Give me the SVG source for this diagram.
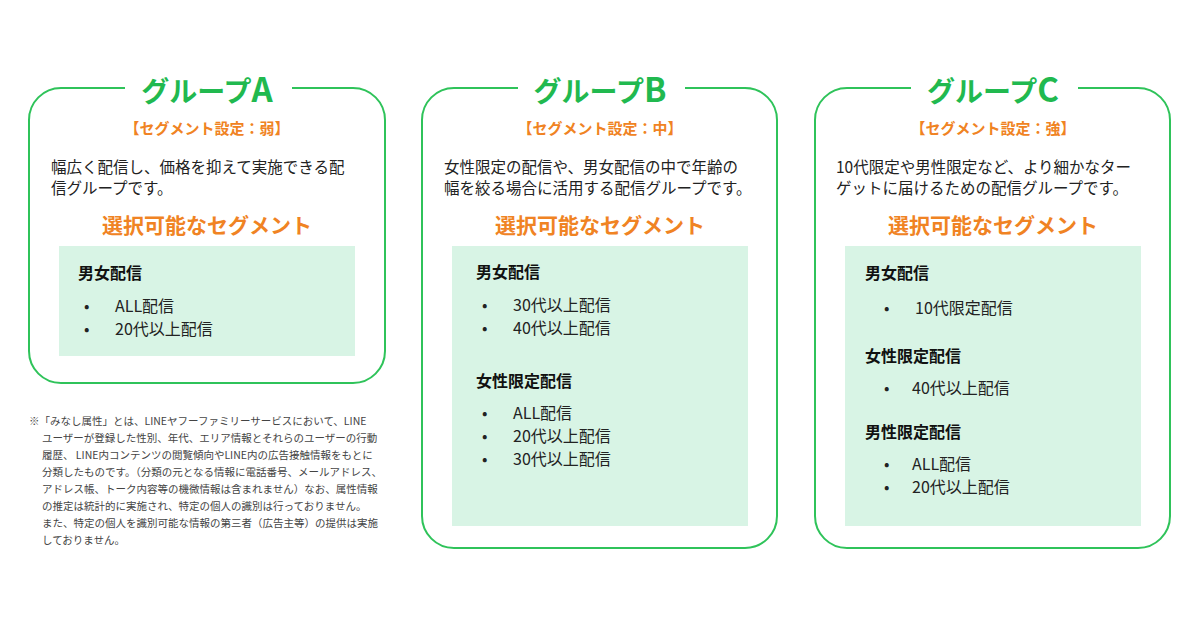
<svg xmlns="http://www.w3.org/2000/svg" width="1200" height="630" viewBox="0 0 1200 630">
<style>
text{font-family:"Noto Sans CJK JP","Noto Sans",sans-serif}
.frame{fill:none;stroke:#2fc35a;stroke-width:2}
.gap{fill:#fff}
.ttl{font-size:28px;font-weight:700;fill:#21b94f;text-anchor:middle}
.big{font-size:33px}
.set{font-size:15px;font-weight:700;fill:#f08323;text-anchor:middle}
.desc{font-size:15.5px;fill:#222}
.sel{font-size:21px;font-weight:700;fill:#f08323;text-anchor:middle}
.inner{fill:#d8f4e5}
.h{font-size:16px;font-weight:700;fill:#111}
.it{font-size:16px;fill:#222}
.note{font-size:10.5px;fill:#444}
</style>
<rect width="1200" height="630" fill="#fff"/>
<g id="groupA">
<rect class="frame" x="29" y="88" width="356" height="295" rx="32"/>
<rect class="gap" x="125" y="78" width="167" height="20"/>
<text class="ttl" x="207" y="102">グループ<tspan class="big">A</tspan></text>
<text class="set" x="207" y="134">【セグメント設定：弱】</text>
<text class="desc" x="51" y="173">幅広く配信し、価格を抑えて実施できる配</text>
<text class="desc" x="51" y="194">信グループです。</text>
<text class="sel" x="207" y="233">選択可能なセグメント</text>
<rect class="inner" x="59" y="246" width="296" height="110"/>
<text class="h" x="78" y="279">男女配信</text>
<text class="it" x="84" y="312">•</text><text class="it" x="115" y="312">ALL配信</text>
<text class="it" x="84" y="335">•</text><text class="it" x="115" y="335">20代以上配信</text>
</g>
<g id="groupB">
<rect class="frame" x="422" y="88" width="355" height="460" rx="32"/>
<rect class="gap" x="518" y="78" width="167" height="20"/>
<text class="ttl" x="600" y="102">グループ<tspan class="big">B</tspan></text>
<text class="set" x="600" y="134">【セグメント設定：中】</text>
<text class="desc" x="444" y="173">女性限定の配信や、男女配信の中で年齢の</text>
<text class="desc" x="444" y="194">幅を絞る場合に活用する配信グループです。</text>
<text class="sel" x="600" y="233">選択可能なセグメント</text>
<rect class="inner" x="452" y="246" width="296" height="280"/>
<text class="h" x="476" y="278">男女配信</text>
<text class="it" x="482" y="311">•</text><text class="it" x="513" y="311">30代以上配信</text>
<text class="it" x="482" y="334">•</text><text class="it" x="513" y="334">40代以上配信</text>
<text class="h" x="476" y="387">女性限定配信</text>
<text class="it" x="482" y="419">•</text><text class="it" x="513" y="419">ALL配信</text>
<text class="it" x="482" y="442">•</text><text class="it" x="513" y="442">20代以上配信</text>
<text class="it" x="482" y="465">•</text><text class="it" x="513" y="465">30代以上配信</text>
</g>
<g id="groupC">
<rect class="frame" x="815" y="88" width="355" height="460" rx="32"/>
<rect class="gap" x="911" y="78" width="167" height="20"/>
<text class="ttl" x="993" y="102">グループ<tspan class="big">C</tspan></text>
<text class="set" x="993" y="134">【セグメント設定：強】</text>
<text class="desc" x="836" y="173">10代限定や男性限定など、より細かなター</text>
<text class="desc" x="836" y="194">ゲットに届けるための配信グループです。</text>
<text class="sel" x="993" y="233">選択可能なセグメント</text>
<rect class="inner" x="845" y="246" width="296" height="280"/>
<text class="h" x="865" y="279">男女配信</text>
<text class="it" x="884" y="314">•</text><text class="it" x="915" y="314">10代限定配信</text>
<text class="h" x="865" y="362">女性限定配信</text>
<text class="it" x="884" y="394">•</text><text class="it" x="912" y="394">40代以上配信</text>
<text class="h" x="865" y="438">男性限定配信</text>
<text class="it" x="884" y="470">•</text><text class="it" x="912" y="470">ALL配信</text>
<text class="it" x="884" y="493">•</text><text class="it" x="912" y="493">20代以上配信</text>
</g>
<g id="note">
<text class="note" x="29" y="425">※「みなし属性」とは、LINEヤフーファミリーサービスにおいて、LINE</text>
<text class="note" x="42" y="442">ユーザーが登録した性別、年代、エリア情報とそれらのユーザーの行動</text>
<text class="note" x="42" y="459">履歴、 LINE内コンテンツの閲覧傾向やLINE内の広告接触情報をもとに</text>
<text class="note" x="42" y="476">分類したものです。（分類の元となる情報に電話番号、メールアドレス、</text>
<text class="note" x="42" y="493">アドレス帳、トーク内容等の機微情報は含まれません）なお、属性情報</text>
<text class="note" x="42" y="510">の推定は統計的に実施され、特定の個人の識別は行っておりません。</text>
<text class="note" x="42" y="527">また、特定の個人を識別可能な情報の第三者（広告主等）の提供は実施</text>
<text class="note" x="42" y="544">しておりません。</text>
</g>
<g id="connectors"/>
</svg>
